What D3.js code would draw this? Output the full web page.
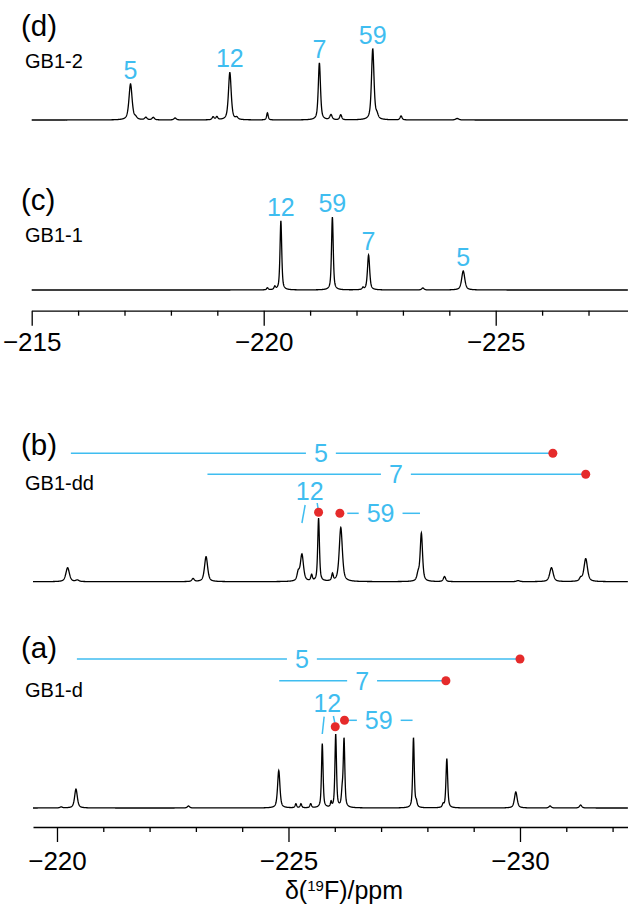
<!DOCTYPE html>
<html>
<head>
<meta charset="utf-8">
<script src="https://cdn.jsdelivr.net/npm/d3@7"></script>
<style>
  body { margin: 0; background: #fff; }
  svg { display: block; font-family: "Liberation Sans", Arial, sans-serif; }
</style>
</head>
<body>
<div id="chart"></div>
<script>
// peak lists: [ppm, height, half-width (ppm)]
const peaksGB1_2 = [
  [-217.13, 36, 0.04], [-217.24, 2, 0.03], [-217.46, 2.5, 0.03], [-217.62, 2.5, 0.03],
  [-218.09, 2, 0.03], [-218.91, 3, 0.025], [-218.99, 3, 0.025], [-219.27, 47.5, 0.035],
  [-219.42, 2, 0.03], [-220.08, 7, 0.02], [-221.20, 57, 0.028], [-221.45, 5, 0.03],
  [-221.66, 5, 0.025], [-222.35, 71, 0.032], [-222.44, 4, 0.03], [-222.96, 4, 0.025],
  [-224.17, 1.5, 0.04]
];
const peaksGB1_1 = [
  [-220.08, 2, 0.02], [-220.24, 3, 0.02], [-220.37, 69, 0.022], [-221.48, 73, 0.022],
  [-222.14, 2, 0.02], [-222.26, 35, 0.028], [-223.43, 2, 0.03], [-224.30, 19, 0.04]
];
const peaksGB1_dd = [
  [-220.23, 14, 0.045], [-220.44, 1.5, 0.04], [-222.94, 3, 0.03], [-223.22, 25, 0.04],
  [-225.21, 8, 0.03], [-225.29, 27, 0.04], [-225.50, 6, 0.02], [-225.65, 63, 0.022],
  [-225.95, 7, 0.02], [-226.13, 54, 0.04], [-227.80, 7, 0.03], [-227.87, 48, 0.03],
  [-228.37, 5, 0.03], [-229.96, 1, 0.04], [-230.68, 14, 0.045], [-231.31, 3, 0.03],
  [-231.42, 23, 0.045]
];
const peaksGB1_d = [
  [-220.09, 1, 0.03], [-220.41, 19, 0.035], [-222.84, 2, 0.03], [-224.79, 37.5, 0.03],
  [-225.16, 4, 0.02], [-225.27, 4, 0.02], [-225.48, 4, 0.02], [-225.73, 64, 0.02],
  [-225.92, 5, 0.015], [-226.02, 73, 0.02], [-226.16, 14, 0.02], [-226.20, 68, 0.02],
  [-227.70, 70, 0.02], [-227.76, 5, 0.02], [-228.34, 3, 0.02], [-228.42, 49, 0.022],
  [-229.91, 16, 0.035], [-230.65, 2, 0.03], [-231.31, 3, 0.03]
];

// residue labels over the assigned peaks: [residue, ppm]
const labelsGB1_2 = [["5", -217.13], ["12", -219.27], ["7", -221.20], ["59", -222.35]];
const labelsGB1_1 = [["12", -220.37], ["59", -221.48], ["7", -222.26], ["5", -224.30]];

// assignment lines: residue, line from/to, red dot, label position (ppm), row offset above baseline (px)
const assignGB1_dd = [
  { res: "5", from: -220.30, to: -230.71, dot: -230.71, label: -225.70, dy: -128.4 },
  { res: "7", from: -223.25, to: -231.42, dot: -231.42, label: -227.32, dy: -107.4 },
  { res: "59", from: -226.27, to: -227.84, dot: -226.11, label: -226.99, dy: -68.4 }
];
const assignGB1_d = [
  { res: "5", from: -220.43, to: -230.00, dot: -230.00, label: -225.29, dy: -149 },
  { res: "7", from: -224.80, to: -228.40, dot: -228.40, label: -226.59, dy: -127.3 },
  { res: "59", from: -226.31, to: -227.68, dot: -226.21, label: -226.95, dy: -87.7 }
];
// residue 12 has a label with two leader ticks
const res12GB1_dd = { label: -225.46, dy: -81.7, dot: -225.65, dotDy: -69.4,
  leaders: [[-225.36, -76.7, -225.29, -58.7], [-225.62, -78.7, -225.64, -72.7]] };
const res12GB1_d = { label: -225.84, dy: -96.3, dot: -226.01, dotDy: -81.3,
  leaders: [[-225.77, -91.3, -225.73, -74], [-225.97, -92, -226.00, -85.3]] };

const topMajor = [-215, -220, -225];
const topMinor = d3.range(-216, -228, -1).filter(v => v % 5 !== 0);
const botMajor = [-220, -225, -230];
const botMinor = d3.range(-221, -233, -1).filter(v => v % 5 !== 0);

const W = 628, H = 907;
const BLUE = "#3fbdf0", RED = "#e52b2b";

const svg = d3.select("#chart").append("svg")
    .attr("width", W)
    .attr("height", H);

const xTop = d3.scaleLinear().domain([-215, -227.851]).range([31.7, 628]);
const xBot = d3.scaleLinear().domain([-219.482, -232.333]).range([33, 628]);
// intensity: 1 unit = 1 px above the baseline
const yUnit = d3.scaleLinear().domain([0, 100]).range([0, -100]);

// pseudo-Voigt sum of the listed peaks
function intensity(peaks, ppm) {
    let s = 0;
    for (const [c, h, w] of peaks) {
        const u = (ppm - c) / w;
        s += h * (0.6 / (1 + u * u) + 0.4 * Math.exp(-Math.LN2 * u * u));
    }
    return s;
}

const panels = [
    { tag: "(d)", name: "GB1-2", peaks: peaksGB1_2, x: xTop, base: 120, tagY: 36, nameY: 68.3, labels: labelsGB1_2 },
    { tag: "(c)", name: "GB1-1", peaks: peaksGB1_1, x: xTop, base: 290, tagY: 209.5, nameY: 241.7, labels: labelsGB1_1 },
    { tag: "(b)", name: "GB1-dd", peaks: peaksGB1_dd, x: xBot, base: 581.7, tagY: 454.5, nameY: 490, assign: assignGB1_dd, res12: res12GB1_dd },
    { tag: "(a)", name: "GB1-d", peaks: peaksGB1_d, x: xBot, base: 808, tagY: 657.6, nameY: 697, assign: assignGB1_d, res12: res12GB1_d }
];

panels.forEach(p => {
    const g = svg.append("g");
    const x = p.x;
    const y = v => p.base + yUnit(v);

    g.append("text").attr("x", 21).attr("y", p.tagY)
        .style("font-size", "29.5px").text(p.tag);
    g.append("text").attr("x", 25).attr("y", p.nameY)
        .style("font-size", "20px").text(p.name);

    const [d0, d1] = x.domain();
    const pts = d3.range(d0, d1, -0.004).map(v => [v, intensity(p.peaks, v)]);
    g.append("path")
        .datum(pts)
        .attr("fill", "none")
        .attr("stroke", "#000")
        .attr("stroke-width", 1.3)
        .attr("d", d3.line().x(d => x(d[0])).y(d => y(d[1])));

    if (p.labels) {
        g.selectAll(".peak-label")
            .data(p.labels)
            .enter()
            .append("text")
            .attr("class", "peak-label")
            .attr("x", d => x(d[1]))
            .attr("y", d => y(intensity(p.peaks, d[1])) - 5)
            .attr("text-anchor", "middle")
            .style("font-size", "25px")
            .style("fill", BLUE)
            .text(d => d[0]);
    }

    if (p.assign) {
        p.assign.forEach(a => {
            const ly = p.base + a.dy;
            const t = g.append("text")
                .attr("x", x(a.label))
                .attr("y", ly + 9)
                .attr("text-anchor", "middle")
                .style("font-size", "25px")
                .style("fill", BLUE)
                .text(a.res);
            const half = t.node().getComputedTextLength() / 2 + 8;
            [[x(a.from), x(a.label) - half], [x(a.label) + half, x(a.to)]].forEach(seg => {
                g.append("line")
                    .attr("x1", seg[0]).attr("x2", seg[1])
                    .attr("y1", ly).attr("y2", ly)
                    .attr("stroke", BLUE).attr("stroke-width", 1.5);
            });
            g.append("circle")
                .attr("cx", x(a.dot)).attr("cy", ly).attr("r", 4.5)
                .attr("fill", RED);
        });

        const r = p.res12;
        g.append("text")
            .attr("x", x(r.label))
            .attr("y", p.base + r.dy)
            .attr("text-anchor", "middle")
            .style("font-size", "25px")
            .style("fill", BLUE)
            .text("12");
        r.leaders.forEach(l => {
            g.append("line")
                .attr("x1", x(l[0])).attr("y1", p.base + l[1])
                .attr("x2", x(l[2])).attr("y2", p.base + l[3])
                .attr("stroke", BLUE).attr("stroke-width", 1.5);
        });
        g.append("circle")
            .attr("cx", x(r.dot)).attr("cy", p.base + r.dotDy).attr("r", 4.5)
            .attr("fill", RED);
    }
});

function drawAxis(x, yPos, major, minor, pad) {
    const gMinor = svg.append("g")
        .attr("transform", "translate(0," + yPos + ")")
        .call(d3.axisBottom(x).tickValues(minor).tickSize(5).tickSizeOuter(0).tickFormat(""));
    const gMajor = svg.append("g")
        .attr("transform", "translate(0," + yPos + ")")
        .call(d3.axisBottom(x).tickValues(major).tickSize(15).tickSizeOuter(0).tickPadding(pad));
    gMajor.select(".domain").remove();
    [gMinor, gMajor].forEach(a => {
        a.attr("font-family", null).attr("font-size", null);
        a.selectAll("path, line").attr("stroke", "#000").attr("stroke-width", 1.3);
        a.selectAll("text").style("font-size", "26px").attr("fill", "#000");
    });
}

drawAxis(xTop, 310.7, topMajor, topMinor, 7);
drawAxis(xBot, 827, botMajor, botMinor, 10);

// axis title
const title = svg.append("text")
    .attr("x", 344)
    .attr("y", 899)
    .attr("text-anchor", "middle")
    .style("font-size", "25px");
title.append("tspan").text("δ(");
title.append("tspan").attr("baseline-shift", "super").style("font-size", "15px").text("19");
title.append("tspan").text("F)/ppm");
</script>
</body>
</html>
